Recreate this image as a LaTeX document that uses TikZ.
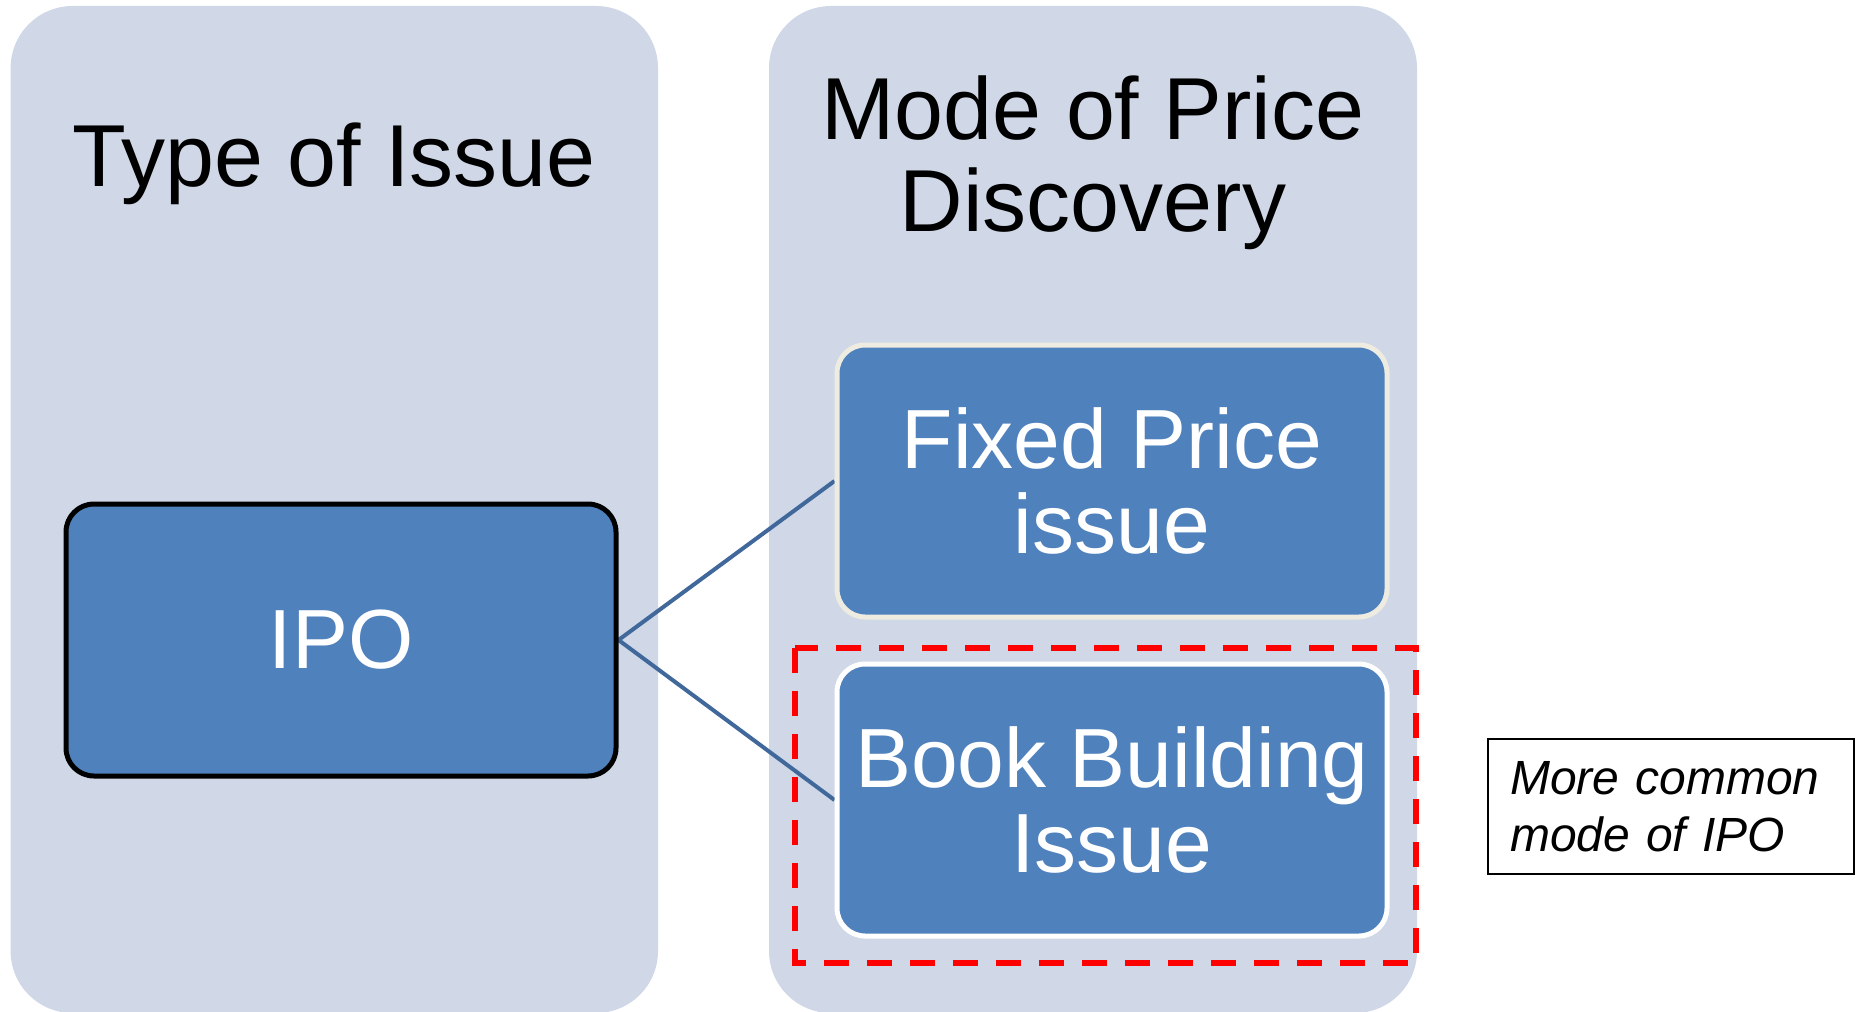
\documentclass[tikz,border=0pt]{standalone}
\usepackage{fontspec}
\setmainfont{Liberation Sans}
\usetikzlibrary{%
  backgrounds,%
  calc%
}
\definecolor{panelblue}{HTML}{D0D8E8}
\definecolor{boxblue}{HTML}{4F81BD}
\definecolor{linkblue}{HTML}{41689B}
\definecolor{creamline}{HTML}{EEECE1}

\begin{document}
\begin{tikzpicture}[x=0.5pt,y=-0.5pt,
  panel/.style={fill=panelblue,rounded corners=31pt},
  heading/.style={font=\fontsize{44}{45.6}\selectfont,align=center},
  mode/.style={line width=2.5pt,fill=boxblue,rounded corners=14pt,text=white,
    minimum width=275pt,minimum height=136pt,align=center,
    font=\fontsize{42}{42.6}\selectfont},
  link/.style={draw=linkblue,line width=2pt},
  hilite/.style={draw=red,line width=3pt,dash pattern=on 12.5pt off 9pt},
  note/.style={draw,line width=1pt,align=left,text width=161pt,inner xsep=11pt,
    minimum height=67.5pt,font=\itshape\fontsize{24}{28.5}\selectfont}]
\useasboundingbox (0,0) rectangle (1856,1011);

\node[heading,anchor=base] (typehead) at (334,186) {Type of Issue};
\node[heading,anchor=base] (modehead) at (1093,231) {Mode of Price\\Discovery};

\node[mode,draw=black] (ipo) at (341,640) {IPO};
\node[mode,draw=creamline] (fixed) at (1112,481) {Fixed Price\\issue};
\node[mode,draw=white] (book) at (1112,800) {Book Building\\Issue};

\draw[hilite] (795,648) rectangle (1416,963);
\node[note] (note) at (1671,806.5) {More common\\mode of IPO};

\begin{scope}[on background layer]
\clip (0,0) rectangle (1856,1011);
\fill[panel] (10.6,6) rectangle (658,1013);
\fill[panel] (769,6) rectangle (1417,1013);
\draw[link] (ipo.east) -- (fixed.west);
\draw[link] (ipo.east) -- (book.west);
\end{scope}
\end{tikzpicture}
\end{document}
